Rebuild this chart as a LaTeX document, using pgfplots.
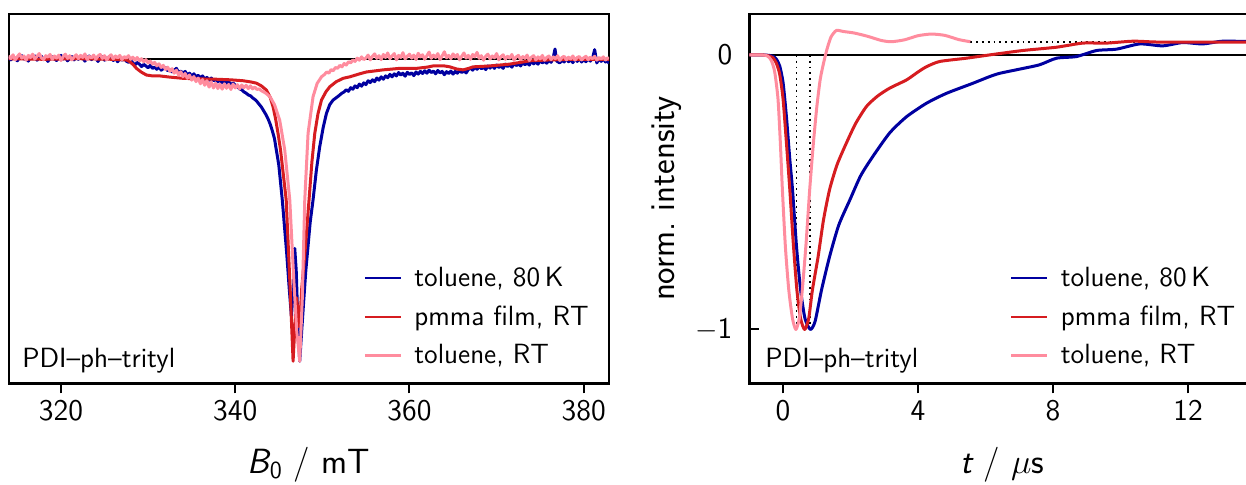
\documentclass[border=0pt]{standalone}
\usepackage{fontspec}
\usepackage{pgfplots}
\pgfplotsset{compat=1.18}
\definecolor{cblue}{RGB}{0,0,160}
\definecolor{cred}{RGB}{214,28,32}
\definecolor{cpink}{RGB}{255,140,158}
\tikzset{cur/.style={line width=1.5pt, line join=round}}
\pgfplotsset{
 mystyle/.style={
  scale only axis,
  height=184.65pt,
  axis line style={line width=1.2pt},
  tick style={line width=1pt, black},
  major tick length=5pt,
  tick align=outside,
  xtick pos=bottom, ytick pos=left,
  ticklabel style={font=\fontsize{15}{17}\selectfont\sffamily},
  /pgf/number format/assume math mode=true,
  label style={font=\fontsize{17.5}{19}\selectfont\sffamily},
  xlabel style={yshift=-6pt},
  legend style={draw=none, fill=none, font=\fontsize{13.9}{15}\selectfont\sffamily, row sep=4.2pt, cells={anchor=west}},
  legend image code/.code={\draw[##1, line width=1.4pt] (0pt,0pt) -- (18pt,0pt); \path (22pt,0pt);},
  clip=true,
 }
}
\begin{document}
\begin{tikzpicture}
% ---------------- left: spectra ----------------
\begin{axis}[mystyle,
  at={(4.35pt,50.35pt)}, anchor=south west,
  width=300.15pt,
  xmin=314, xmax=382.9, ymin=-1.073, ymax=0.15,
  xtick={320,340,360,380}, ytick=\empty,
  xlabel={{\itshape B}$_\mathsf{0}$ / mT},
  legend style={at={(1,0)}, anchor=south east, xshift=-5pt, yshift=4pt},
]
\addplot[black, line width=0.9pt, forget plot] coordinates {(314,0) (382.9,0)};
\addplot[cblue, cur] table {
314.00 0.006
314.25 -0.002
314.50 0.009
314.75 0.001
315.00 -0.005
315.25 0.007
315.50 0.012
315.75 0.000
316.00 0.004
316.25 -0.006
316.50 0.008
316.75 0.003
317.00 0.011
317.25 -0.003
317.50 0.005
317.75 0.010
318.00 -0.001
318.25 0.006
318.50 -0.007
318.75 0.004
319.00 0.009
319.25 0.002
319.50 -0.004
319.75 0.008
320.00 0.013
320.25 0.001
320.50 0.006
320.75 -0.005
321.00 0.003
321.25 0.009
321.50 -0.002
321.75 0.007
322.00 0.000
322.25 0.010
322.50 0.004
322.75 -0.006
323.00 0.005
323.25 0.011
323.50 -0.001
323.75 0.006
324.00 0.002
324.25 -0.007
324.50 0.004
324.75 0.009
325.00 -0.003
325.25 0.005
325.50 0.001
325.75 0.008
326.00 -0.004
326.25 0.003
326.50 -0.008
326.75 0.002
327.00 -0.003
327.25 0.004
327.50 -0.006
327.75 -0.010
328.00 -0.004
328.25 -0.012
328.50 -0.018
328.75 -0.010
329.00 -0.016
329.25 -0.024
329.50 -0.017
329.75 -0.022
330.00 -0.028
330.25 -0.020
330.50 -0.030
330.75 -0.026
331.00 -0.033
331.25 -0.025
331.50 -0.036
331.75 -0.031
332.00 -0.027
332.25 -0.038
332.50 -0.034
332.75 -0.042
333.00 -0.036
333.25 -0.030
333.50 -0.044
333.75 -0.039
334.00 -0.047
334.25 -0.040
334.50 -0.052
334.75 -0.046
335.00 -0.055
335.25 -0.048
335.50 -0.058
335.75 -0.053
336.00 -0.061
336.25 -0.055
336.50 -0.066
336.75 -0.060
337.00 -0.069
337.25 -0.062
337.50 -0.071
337.75 -0.066
338.00 -0.075
338.25 -0.068
338.50 -0.078
338.75 -0.072
339.00 -0.080
339.25 -0.074
339.50 -0.084
339.75 -0.079
340.00 -0.086
340.25 -0.090
340.50 -0.098
340.75 -0.101
341.00 -0.108
341.25 -0.112
341.50 -0.118
341.75 -0.121
342.00 -0.128
342.25 -0.133
342.50 -0.140
342.75 -0.149
343.00 -0.158
343.25 -0.170
343.50 -0.182
343.75 -0.196
344.00 -0.214
344.25 -0.236
344.50 -0.262
345.0 -0.350
345.4 -0.466
345.9 -0.640
346.2 -0.760
346.45 -0.852
346.65 -0.760
346.83 -0.626
347.0 -0.700
347.2 -0.880
347.4 -1.0
347.65 -0.890
347.86 -0.800
348.1 -0.700
348.32 -0.630
348.6 -0.540
348.93 -0.466
349.3 -0.370
349.7 -0.289
350.1 -0.225
350.47 -0.179
350.85 -0.150
351.23 -0.135
351.7 -0.125
352.0 -0.118
352.25 -0.112
352.50 -0.108
352.75 -0.101
353.00 -0.106
353.25 -0.094
353.50 -0.099
353.75 -0.088
354.00 -0.094
354.25 -0.082
354.50 -0.089
354.75 -0.078
355.00 -0.084
355.25 -0.071
355.50 -0.077
355.75 -0.068
356.00 -0.074
356.25 -0.062
356.50 -0.069
356.75 -0.058
357.00 -0.066
357.25 -0.055
357.50 -0.061
357.75 -0.050
358.00 -0.058
358.25 -0.048
358.50 -0.055
358.75 -0.044
359.00 -0.052
359.25 -0.046
359.50 -0.056
359.75 -0.043
360.00 -0.050
360.25 -0.045
360.50 -0.054
360.75 -0.042
361.00 -0.049
361.25 -0.040
361.50 -0.047
361.75 -0.038
362.00 -0.046
362.25 -0.036
362.50 -0.044
362.75 -0.039
363.00 -0.048
363.25 -0.037
363.50 -0.045
363.75 -0.040
364.00 -0.051
364.25 -0.041
364.50 -0.047
364.75 -0.039
365.00 -0.049
365.25 -0.040
365.50 -0.046
365.75 -0.036
366.00 -0.044
366.25 -0.038
366.50 -0.045
366.75 -0.034
367.00 -0.029
367.25 -0.036
367.50 -0.026
367.75 -0.033
368.00 -0.024
368.25 -0.031
368.50 -0.027
368.75 -0.034
369.00 -0.022
369.25 -0.029
369.50 -0.021
369.75 -0.030
370.00 -0.019
370.25 -0.027
370.50 -0.022
370.75 -0.030
371.00 -0.016
371.25 -0.024
371.50 -0.018
371.75 -0.026
372.00 -0.013
372.25 -0.021
372.50 -0.015
372.75 -0.022
373.00 -0.010
373.25 -0.018
373.50 -0.012
373.75 -0.019
374.00 -0.006
374.25 -0.015
374.50 -0.009
374.75 -0.016
375.00 -0.004
375.25 -0.012
375.50 -0.006
375.75 -0.013
376.00 -0.002
376.25 -0.010
376.50 0.006
376.70 0.034
376.90 -0.006
377.25 -0.012
377.50 -0.002
377.75 -0.009
378.00 0.003
378.25 -0.008
378.50 -0.001
378.75 -0.011
379.00 0.002
379.25 -0.007
379.50 0.004
379.75 -0.009
380.00 -0.001
380.25 -0.008
380.50 0.003
380.75 -0.006
381.00 0.002
381.25 0.032
381.50 -0.012
381.75 0.003
382.00 -0.007
382.25 0.002
382.50 -0.009
382.75 -0.003
382.90 -0.014
};
\addlegendentry{toluene, 80\,K}
\addplot[cred, cur] table {
314 0.002
318 0.0
322 0.002
326 0.0
327.5 -0.002
327.9 -0.008
328.3 -0.018
328.66 -0.03
329.2 -0.042
329.8 -0.052
330.5 -0.055
331.33 -0.055
332.5 -0.059
334.0 -0.063
336 -0.065
337.84 -0.066
339.5 -0.068
340.9 -0.071
341.8 -0.075
342.43 -0.079
343.0 -0.088
343.58 -0.102
344.0 -0.125
344.34 -0.157
344.65 -0.2
344.91 -0.245
345.2 -0.30
345.42 -0.356
345.85 -0.466
346.26 -0.73
346.64 -1.0
346.85 -0.88
347.03 -0.79
347.15 -0.82
347.29 -0.885
347.45 -0.85
347.63 -0.76
348.03 -0.63
348.47 -0.466
348.8 -0.34
349.13 -0.245
349.5 -0.18
349.9 -0.135
350.4 -0.108
350.85 -0.091
351.6 -0.074
352.38 -0.063
353.15 -0.058
354.29 -0.048
355.06 -0.042
356.97 -0.035
358.89 -0.030
360.8 -0.030
362.0 -0.026
362.71 -0.022
364.0 -0.022
364.63 -0.025
365.4 -0.032
366.15 -0.035
366.8 -0.030
367.3 -0.025
369.22 -0.022
371.51 -0.016
373.81 -0.005
376.11 -0.002
379 0.0
382.9 0.0
};
\addlegendentry{pmma film, RT}
\addplot[cpink, cur] table {
314.00 0.012
314.25 0.002
314.50 0.015
314.75 -0.002
315.00 0.009
315.25 0.018
315.50 0.004
315.75 0.011
316.00 -0.003
316.25 0.013
316.50 0.006
316.75 0.017
317.00 0.001
317.25 0.010
317.50 0.019
317.75 0.005
318.00 -0.001
318.25 0.012
318.50 0.007
318.75 0.016
319.00 0.000
319.25 0.011
319.50 0.004
319.75 0.014
320.00 -0.004
320.25 0.009
320.50 0.017
320.75 0.003
321.00 0.012
321.25 -0.002
321.50 0.008
321.75 0.015
322.00 0.002
322.25 0.013
322.50 0.006
322.75 0.018
323.00 -0.001
323.25 0.010
323.50 0.005
323.75 0.014
324.00 0.000
324.25 0.011
324.50 0.016
324.75 0.003
325.00 0.012
325.25 -0.002
325.50 0.009
325.75 0.015
326.00 0.001
326.25 0.011
326.50 0.005
326.75 0.013
327.00 -0.001
327.25 0.009
327.50 0.004
327.75 0.012
328.00 0.000
328.25 0.007
328.50 -0.003
328.75 0.006
329.00 -0.005
329.25 0.002
329.50 -0.008
329.75 -0.001
330.00 -0.012
330.25 -0.006
330.50 -0.016
330.75 -0.010
331.00 -0.022
331.25 -0.015
331.50 -0.027
331.75 -0.020
332.00 -0.034
332.25 -0.026
332.50 -0.040
332.75 -0.031
333.00 -0.046
333.25 -0.036
333.50 -0.052
333.75 -0.041
334.00 -0.058
334.25 -0.047
334.50 -0.063
334.75 -0.052
335.00 -0.069
335.25 -0.057
335.50 -0.074
335.75 -0.062
336.00 -0.081
336.25 -0.067
336.50 -0.086
336.75 -0.071
337.00 -0.092
337.25 -0.075
337.50 -0.095
337.75 -0.079
338.00 -0.097
338.25 -0.082
338.50 -0.099
338.75 -0.081
339.00 -0.096
339.25 -0.083
339.50 -0.100
339.75 -0.082
340.00 -0.095
340.25 -0.084
340.50 -0.098
340.75 -0.085
341.00 -0.094
341.25 -0.086
341.50 -0.097
341.75 -0.088
342.00 -0.098
342.25 -0.092
342.50 -0.100
342.75 -0.098
343.00 -0.104
343.5 -0.112
344.0 -0.124
344.5 -0.150
345.1 -0.201
345.68 -0.30
346.26 -0.466
346.72 -0.73
347.06 -0.90
347.4 -1.0
347.69 -0.797
347.98 -0.466
348.36 -0.245
348.93 -0.124
349.4 -0.080
349.9 -0.058
350.25 -0.050
350.50 -0.042
350.75 -0.046
351.00 -0.034
351.25 -0.038
351.50 -0.027
351.75 -0.030
352.00 -0.020
352.25 -0.025
352.50 -0.014
352.75 -0.019
353.00 -0.008
353.25 -0.012
353.50 -0.002
353.75 -0.007
354.00 0.004
354.25 -0.003
354.50 0.008
354.75 -0.001
355.00 0.004
355.25 0.014
355.50 -0.002
355.75 0.010
356.00 0.018
356.25 0.003
356.50 0.012
356.75 -0.001
357.00 0.016
357.25 0.006
357.50 0.021
357.75 0.002
358.00 0.011
358.25 0.019
358.50 -0.002
358.75 0.013
359.00 0.006
359.25 0.022
359.50 0.001
359.75 0.010
360.00 0.017
360.25 0.004
360.50 0.014
360.75 -0.001
361.00 0.020
361.25 0.008
361.50 0.015
361.75 0.000
362.00 0.012
362.25 0.024
362.50 0.003
362.75 0.014
363.00 0.006
363.25 0.019
363.50 -0.001
363.75 0.011
364.00 0.025
364.25 0.005
364.50 0.013
364.75 0.002
365.00 0.018
365.25 0.007
365.50 0.016
365.75 -0.002
366.00 0.010
366.25 0.021
366.50 0.004
366.75 0.013
367.00 0.000
367.25 0.016
367.50 0.008
367.75 0.023
368.00 0.003
368.25 0.012
368.50 -0.003
368.75 0.010
369.00 0.017
369.25 0.001
369.50 0.011
369.75 0.005
370.00 0.019
370.25 -0.002
370.50 0.009
370.75 0.015
371.00 0.000
371.25 0.010
371.50 0.004
371.75 0.016
372.00 -0.003
372.25 0.008
372.50 0.013
372.75 -0.001
373.00 0.009
373.25 0.003
373.50 0.014
373.75 -0.004
374.00 0.007
374.25 0.012
374.50 -0.002
374.75 0.008
375.00 0.001
375.25 0.013
375.50 -0.003
375.75 0.006
376.00 0.011
376.25 -0.001
376.50 0.008
376.75 0.002
377.00 0.012
377.25 -0.004
377.50 0.006
377.75 0.010
378.00 -0.002
378.25 0.007
378.50 0.001
378.75 0.011
379.00 -0.003
379.25 0.006
379.50 0.009
379.75 -0.002
380.00 0.005
380.25 0.010
380.50 -0.001
380.75 0.007
381.00 0.002
381.25 0.010
381.50 -0.003
381.75 0.006
382.00 0.001
382.25 0.008
382.50 -0.002
382.75 0.005
382.90 0.002
};
\addlegendentry{toluene, RT}
\node[anchor=base west, inner sep=0pt, font=\fontsize{13.9}{15}\selectfont\sffamily] at (axis description cs:0.022,0.043) {PDI--ph--trityl};
\end{axis}
% ---------------- right: transients ----------------
\begin{axis}[mystyle,
  at={(374.65pt,50.35pt)}, anchor=south west,
  width=253.1pt,
  xmin=-1, xmax=14, ymin=-1.196, ymax=0.149,
  xtick={0,4,8,12}, ytick={-1,0}, yticklabels={$-$1,0},
  ytick style={xshift=5pt},
  xlabel={{\itshape t} / $\mu$s},
  ylabel={norm.\ intensity},
  legend style={at={(1,0)}, anchor=south east, xshift=-5pt, yshift=4pt},
]
\addplot[black, line width=0.9pt, forget plot] coordinates {(-1,0) (14,0)};
\addplot[black, dotted, line width=0.9pt, forget plot] coordinates {(0.40,0) (0.40,-1)};
\addplot[black, dotted, line width=0.9pt, forget plot] coordinates {(0.80,0) (0.80,-1)};
\addplot[black, dotted, line width=0.9pt, forget plot] coordinates {(5.55,0.048) (14,0.048)};
\addplot[cblue, cur, smooth, tension=0.4] table {
-1.0 0
-0.6 0
-0.4 -0.002
-0.3 -0.005
-0.2 -0.015
-0.1 -0.04
0.0 -0.10
0.1 -0.225
0.2 -0.38
0.28 -0.49
0.4 -0.70
0.52 -0.856
0.65 -0.96
0.81 -1.0
0.95 -0.97
1.14 -0.856
1.38 -0.734
1.65 -0.62
1.98 -0.528
2.3 -0.44
2.66 -0.37
3.16 -0.284
3.66 -0.225
4.25 -0.176
4.84 -0.14
5.63 -0.103
6.12 -0.079
6.42 -0.067
7.0 -0.052
7.6 -0.036
8.1 -0.012
8.69 -0.006
9.29 0.016
9.88 0.021
10.57 0.04
11.25 0.033
11.84 0.045
12.44 0.04
13.03 0.05
14.0 0.048
};
\addlegendentry{toluene, 80\,K}
\addplot[cred, cur, smooth, tension=0.4] table {
-1 0
-0.6 0
-0.4 -0.004
-0.3 -0.01
-0.2 -0.03
-0.1 -0.07
0.0 -0.16
0.1 -0.32
0.2 -0.49
0.3 -0.68
0.41 -0.856
0.52 -0.96
0.64 -1
0.76 -0.96
0.87 -0.856
1.04 -0.734
1.2 -0.60
1.38 -0.49
1.6 -0.40
1.88 -0.32
2.15 -0.25
2.47 -0.188
2.8 -0.15
3.16 -0.121
3.66 -0.091
4.0 -0.062
4.25 -0.043
4.64 -0.024
5.43 -0.012
6.12 0.0
7.1 0.016
8.1 0.028
8.88 0.043
9.58 0.043
10.37 0.05
11.06 0.047
12.05 0.047
14.0 0.047
};
\addlegendentry{pmma film, RT}
\addplot[cpink, cur, smooth, tension=0.4] table {
-1 0
-0.6 0
-0.45 -0.005
-0.35 -0.02
-0.25 -0.06
-0.15 -0.16
-0.08 -0.32
-0.02 -0.49
0.07 -0.70
0.17 -0.856
0.28 -0.96
0.38 -1
0.48 -0.96
0.57 -0.856
0.68 -0.69
0.79 -0.49
0.9 -0.32
1.0 -0.19
1.1 -0.09
1.2 -0.03
1.3 0.02
1.42 0.065
1.58 0.089
1.8 0.085
2.1 0.08
2.5 0.068
2.9 0.053
3.2 0.048
3.6 0.055
4.0 0.07
4.4 0.076
4.8 0.071
5.2 0.056
5.55 0.048
};
\addlegendentry{toluene, RT}
\node[anchor=base west, inner sep=0pt, font=\fontsize{13.9}{15}\selectfont\sffamily] at (axis description cs:0.031,0.043) {PDI--ph--trityl};
\end{axis}
\pgfresetboundingbox
\path[use as bounding box] (0pt,0pt) rectangle (623pt,242pt);
\end{tikzpicture}
\end{document}
